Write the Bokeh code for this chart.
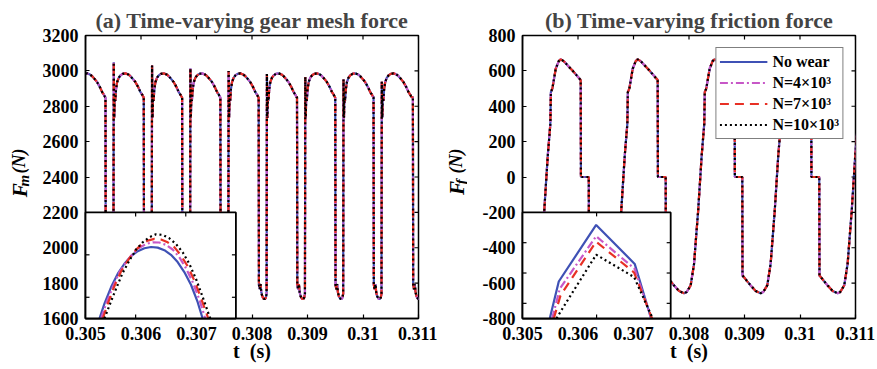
import math
from bokeh.plotting import figure
from bokeh.models import Range1d, FixedTicker, Legend, LegendItem
from bokeh.core.properties import value
from bokeh.layouts import row
from bokeh.embed import file_html
from bokeh.resources import INLINE

SERIF = "Liberation Serif"

# ---------------- data ----------------
series_names = ["No wear", "N=4×10³", "N=7×10³", "N=10×10³"]
series_colors = ["#3F51B5", "#C757C7", "#E83025", "#000000"]
series_dashes = ["solid", "8 3 2 3", "9 6", "2 3"]

t_ticks = [0.305, 0.306, 0.307, 0.308, 0.309, 0.310, 0.311]
t_tick_labels = ["0.305", "0.306", "0.307", "0.308", "0.309", "0.31", "0.311"]
fm_ticks = [1600, 1800, 2000, 2200, 2400, 2600, 2800, 3000, 3200]
fm_tick_labels = ["1600", "1800", "2000", "2200", "2400", "2600", "2800", "3000", "3200"]
ff_ticks = [-800, -600, -400, -200, 0, 200, 400, 600, 800]
ff_tick_labels = ["-800", "-600", "-400", "-200", "0", "200", "400", "600", "800"]

# (a) gear mesh force: time (s) at which each mesh cycle drops
mesh_drop_t = [0.304670, 0.305360, 0.306050, 0.306741, 0.307430,
               0.308120, 0.308811, 0.309500, 0.310190, 0.310899]
# top of the re-entry spike of each cycle (N)
mesh_spike_F = [3065, 3049, 3030, 3014, 2999, 2982, 2966, 2951, 2938, 2925]
# one mesh cycle: offset after the drop (microseconds) and force (N); None = spike
mesh_cycle_us = [0, 5, 20, 34, 48, 66, 90, 112, 130, 143, 149, 157, 166, 176, 190,
                 210, 240, 270, 310, 360, 410, 450, 500, 540, 590, 630, 660, 680]
mesh_cycle_F = [2850, 1790, 1765, 1795, 1748, 1725, 1712, 1710, 1718, 1740, None, 2735,
                2845, 2830, 2895, 2936, 2962, 2974, 2983, 2986, 2980, 2970, 2952, 2936,
                2908, 2880, 2866, 2853]

# (b) friction force: time (s) at which the force drops below zero
fric_drop_t = [0.304807, 0.306194, 0.307580, 0.308960, 0.310347]
fric_cycle_us = [0, 4, 31, 90, 151, 241, 331, 378, 450, 511, 571, 583, 648, 695, 704,
                 731, 792, 846, 882, 936, 1093, 1242, 1246]
fric_cycle_F = [0, -557, -567, -590, -613, -645, -657, -650, -613, -491, -246, -200, 120,
                300, 480, 500, 612, 655, 665, 655, 602, 548, 0]

# inset (a): zoom of a mesh-force crest; time in microseconds after inset_a_t0
inset_a_t0 = 0.30560
inset_a_us = [
    [27.9, 37.8, 51.1, 64.4, 77.6, 90.9, 104.2, 117.5, 130.7, 144.0, 157.3, 170.5, 183.8, 197.1, 210.4, 223.6, 233.6],
    [31.2, 41.1, 54.4, 67.7, 81.0, 94.2, 107.5, 120.8, 134.0, 147.3, 160.6, 173.8, 187.1, 200.4, 213.7, 226.9, 238.9],
    [34.5, 44.5, 57.7, 71.0, 84.3, 97.5, 110.8, 124.1, 137.4, 150.6, 163.9, 177.2, 190.4, 203.7, 217.0, 230.3, 244.9],
    [37.8, 47.8, 61.1, 74.3, 87.6, 100.9, 114.1, 127.4, 140.7, 153.9, 167.2, 180.5, 193.8, 207.0, 220.3, 233.6, 248.8],
]
inset_a_F = [
    [2950.0, 2957.0, 2964.8, 2971.1, 2975.8, 2979.4, 2981.7, 2983.1, 2983.7, 2983.4, 2982.2, 2980.0, 2976.6, 2971.9, 2965.9, 2957.8, 2950.0],
    [2950.0, 2957.0, 2964.8, 2971.9, 2976.6, 2980.5, 2983.3, 2985.1, 2985.9, 2985.8, 2984.7, 2982.5, 2978.9, 2973.7, 2967.2, 2959.1, 2950.0],
    [2950.0, 2957.0, 2965.3, 2972.2, 2977.3, 2981.6, 2984.7, 2986.7, 2987.5, 2987.2, 2985.9, 2983.6, 2979.7, 2974.7, 2968.0, 2959.7, 2950.0],
    [2950.0, 2956.2, 2964.1, 2971.6, 2977.3, 2982.5, 2985.9, 2988.3, 2989.7, 2989.4, 2987.8, 2985.1, 2981.2, 2975.8, 2968.7, 2960.2, 2950.0],
]
inset_a_t_range = (0.30560, 0.30590)
inset_a_F_range = (2950, 3000)
inset_a_t_ticks = [0.30570, 0.30580]
inset_a_F_ticks = [2960, 2980]
inset_a_box_t = (0.305, 0.30771)
inset_a_box_F = (1600, 2200)

# inset (b): zoom of a friction-force crest; time in microseconds after inset_b_t0
inset_b_t0 = 0.30546
inset_b_us = [
    [81.0, 107.7, 218.7, 333.2, 381.9],
    [88.1, 110.7, 218.7, 333.2, 382.7],
    [92.9, 112.7, 218.7, 331.4, 384.8],
    [100.9, 118.7, 218.7, 331.4, 386.6],
]
inset_b_F = [
    [610.0, 634.4, 671.7, 646.0, 610.0],
    [610.0, 629.6, 664.3, 642.7, 610.0],
    [610.0, 625.1, 660.7, 640.3, 610.0],
    [610.0, 616.6, 652.1, 637.3, 610.0],
]
inset_b_t_range = (0.30546, 0.30590)
inset_b_F_range = (610, 680)
inset_b_t_ticks = [0.30568]
inset_b_F_ticks = [620, 640, 660]
inset_b_box_t = (0.305, 0.30767)
inset_b_box_F = (-800, -200)

# ---------------- layout constants ----------------
H = 369
LAB_W = 30                      # strip that carries the rotated y titles
BORDER_L, BORDER_T, BORDER_B = 55, 35, 51
FRAME_W, FRAME_H = 333, 283
TICK = 4
# y-title pieces: (text, size, x of baseline, screen y where text starts)
ylab_pieces = {
    "m": [("F", "21px", 19, 211), ("m", "15px", 23, 197), ("(N)", "18px", 18.5, 180)],
    "f": [("F", "21px", 19, 208), ("f", "15px", 23, 194), ("(N)", "18px", 18.5, 180)],
}


def build(drops, cycle_us, cycle_F, spikes=None):
    t, F = [], []
    for k, t0 in enumerate(drops):
        for dt, f in zip(cycle_us, cycle_F):
            t.append(t0 + dt * 1e-6)
            F.append(spikes[k] if f is None else f)
    return t, F


def style_axis(ax, ticks, labels):
    ax.ticker = FixedTicker(ticks=ticks)
    ax.major_label_overrides = {v: s for v, s in zip(ticks, labels)}
    ax.major_tick_in = TICK
    ax.major_tick_out = 0
    ax.minor_tick_in = 0
    ax.minor_tick_out = 0
    ax.axis_line_color = "black"
    ax.axis_line_width = 1.5
    ax.major_tick_line_color = "black"
    ax.major_tick_line_width = 1.2
    ax.major_label_text_font = SERIF
    ax.major_label_text_font_style = "bold"
    ax.major_label_text_font_size = "18px"
    ax.major_label_text_color = "black"


def make_ylabel(key):
    q = figure(width=LAB_W, height=H, x_range=Range1d(0, LAB_W), y_range=Range1d(0, H),
               output_backend="svg", toolbar_location=None, min_border=0,
               x_axis_location=None, y_axis_location=None)
    q.outline_line_color = None
    q.grid.visible = False
    for txt, size, bx, sy in ylab_pieces[key]:
        q.text(x=[bx], y=[H - sy], text=[txt], angle=math.pi / 2,
               text_font=value(SERIF), text_font_style="bold italic",
               text_font_size=value(size), text_align="left",
               text_baseline="alphabetic", text_color="black")
    return q


def make_panel(title, width, border_r, y_ticks, y_labels, main_t, main_F, inset):
    p = figure(width=width, height=H, x_range=Range1d(t_ticks[0], t_ticks[-1]),
               y_range=Range1d(y_ticks[0], y_ticks[-1]), output_backend="svg",
               toolbar_location=None, min_border_left=BORDER_L, min_border_right=border_r,
               min_border_top=BORDER_T, min_border_bottom=BORDER_B, title=title)
    p.title.text_font = SERIF
    p.title.text_font_style = "bold"
    p.title.text_font_size = "22px"
    p.title.align = "center"
    p.title.standoff = 6
    p.grid.visible = False
    p.outline_line_color = "black"
    p.outline_line_width = 1.5
    p.background_fill_color = "white"
    p.border_fill_color = "white"

    style_axis(p.xaxis[0], t_ticks, t_tick_labels)
    p.xaxis[0].major_label_standoff = 8
    p.xaxis[0].axis_label = "t\u00a0\u00a0(s)"
    p.xaxis[0].axis_label_text_font = SERIF
    p.xaxis[0].axis_label_text_font_style = "bold"
    p.xaxis[0].axis_label_text_font_size = "20px"
    p.xaxis[0].axis_label_text_color = "black"
    p.xaxis[0].axis_label_standoff = -3
    style_axis(p.yaxis[0], y_ticks, y_labels)
    p.yaxis[0].major_label_standoff = 7

    renderers = []
    for color, dash in zip(series_colors, series_dashes):
        r = p.line(main_t, main_F, line_color=color, line_dash=dash, line_width=2.2)
        renderers.append(r)

    xspan = t_ticks[-1] - t_ticks[0]
    yspan = y_ticks[-1] - y_ticks[0]
    # inward ticks on the top and right edges of the box
    mdx = xspan / FRAME_W * TICK
    mdy = yspan / FRAME_H * TICK
    nt, ny = len(t_ticks), len(y_ticks)
    p.segment(x0=t_ticks, y0=[y_ticks[-1]] * nt, x1=t_ticks, y1=[y_ticks[-1] - mdy] * nt,
              line_color="black", line_width=1.2)
    p.segment(x0=[t_ticks[-1]] * ny, y0=y_ticks, x1=[t_ticks[-1] - mdx] * ny, y1=y_ticks,
              line_color="black", line_width=1.2)

    # inset, drawn above the main axes
    (t0, us_lists, F_lists, t_rng, F_rng, t_tk, F_tk, box_t, box_F) = inset
    sub = p.subplot(x_source=Range1d(*t_rng), y_source=Range1d(*F_rng),
                    x_target=Range1d(*box_t), y_target=Range1d(*box_F))
    sub.quad(left=[t_rng[0]], right=[t_rng[1]], bottom=[F_rng[0]], top=[F_rng[1]],
             fill_color="white", line_color=None, level="overlay")
    for us, Fs, color, dash in zip(us_lists, F_lists, series_colors, series_dashes):
        ts = [t0 + u * 1e-6 for u in us]
        sub.line(ts, Fs, line_color=color, line_dash=dash, line_width=2.2, level="overlay")
    px_w = (box_t[1] - box_t[0]) / xspan * FRAME_W
    px_h = (box_F[1] - box_F[0]) / yspan * FRAME_H
    dx = (t_rng[1] - t_rng[0]) / px_w * TICK
    dy = (F_rng[1] - F_rng[0]) / px_h * TICK
    n = len(t_tk)
    m = len(F_tk)
    tick_kw = dict(line_color="black", line_width=1.2, level="overlay")
    sub.segment(x0=t_tk, y0=[F_rng[0]] * n, x1=t_tk, y1=[F_rng[0] + dy] * n, **tick_kw)
    sub.segment(x0=t_tk, y0=[F_rng[1]] * n, x1=t_tk, y1=[F_rng[1] - dy] * n, **tick_kw)
    sub.segment(x0=[t_rng[0]] * m, y0=F_tk, x1=[t_rng[0] + dx] * m, y1=F_tk, **tick_kw)
    sub.segment(x0=[t_rng[1]] * m, y0=F_tk, x1=[t_rng[1] - dx] * m, y1=F_tk, **tick_kw)
    sub.quad(left=[t_rng[0]], right=[t_rng[1]], bottom=[F_rng[0]], top=[F_rng[1]],
             fill_color=None, line_color="black", line_width=1.8, level="overlay")
    return p, renderers


ta, Fa = build(mesh_drop_t, mesh_cycle_us, mesh_cycle_F, mesh_spike_F)
tb, Fb = build(fric_drop_t, fric_cycle_us, fric_cycle_F)

pa, _ = make_panel("(a) Time-varying gear mesh force", 437 - LAB_W, 19, fm_ticks, fm_tick_labels,
                   ta, Fa,
                   (inset_a_t0, inset_a_us, inset_a_F, inset_a_t_range, inset_a_F_range,
                    inset_a_t_ticks, inset_a_F_ticks, inset_a_box_t, inset_a_box_F))
pb, rb = make_panel("(b) Time-varying friction force", 440 - LAB_W, 22, ff_ticks, ff_tick_labels,
                    tb, Fb,
                    (inset_b_t0, inset_b_us, inset_b_F, inset_b_t_range, inset_b_F_range,
                     inset_b_t_ticks, inset_b_F_ticks, inset_b_box_t, inset_b_box_F))

legend = Legend(items=[LegendItem(label=nm, renderers=[r]) for nm, r in zip(series_names, rb)],
                location="top_right")
legend.margin = 12
legend.padding = 3
legend.spacing = 0
legend.label_height = 21
legend.glyph_height = 21
legend.glyph_width = 48
legend.label_standoff = 5
legend.label_text_font = SERIF
legend.label_text_font_style = "bold"
legend.label_text_font_size = "16px"
legend.label_text_color = "black"
legend.border_line_color = "black"
legend.border_line_width = 1.5
legend.background_fill_color = "white"
legend.background_fill_alpha = 1.0
pb.add_layout(legend)

layout = row(make_ylabel("m"), pa, make_ylabel("f"), pb)
open("out.html", "w").write(file_html(layout, INLINE))
